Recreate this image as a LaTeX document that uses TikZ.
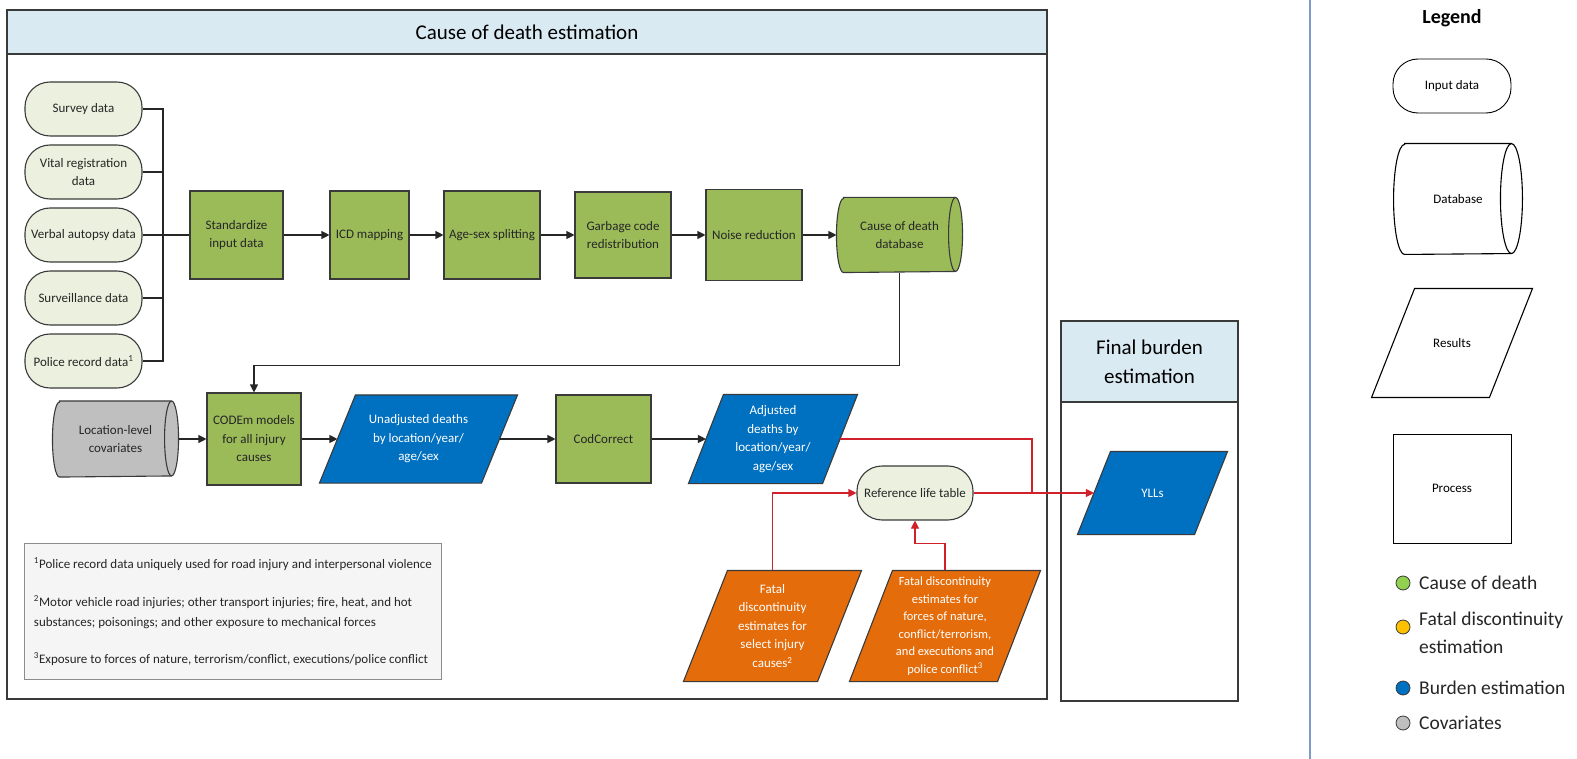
\documentclass[tikz,border=0pt]{standalone}
\usepackage{fontspec}
\setmainfont{Carlito}
\usetikzlibrary{arrows.meta,backgrounds}

\definecolor{codgreen}{HTML}{9BBB59}
\definecolor{inputfill}{HTML}{EBF1DE}
\definecolor{burdenblue}{HTML}{0070C0}
\definecolor{fdorange}{HTML}{E46C0A}
\definecolor{covgray}{HTML}{BFBFBF}
\definecolor{headblue}{HTML}{DAEAF2}
\definecolor{linkred}{HTML}{D0202A}
\definecolor{edgegray}{HTML}{3A3A3A}
\definecolor{sepblue}{HTML}{7F9CC8}
\definecolor{dotgreen}{HTML}{92D050}
\definecolor{dotyellow}{HTML}{FFC000}

\begin{document}
\begin{tikzpicture}[x=1pt,y=-1pt,
    base/.style={draw=edgegray,line width=1.1pt,inner sep=0pt,align=center,
      font=\fontsize{13}{18.5}\selectfont,text=black!85},
    inputbox/.style={base,rectangle,rounded corners=25pt,fill=inputfill,minimum width=117,minimum height=54},
    procbox/.style={base,rectangle,fill=codgreen,minimum height=88},
    dbbox/.style={base,draw=none,rectangle},
    resbox/.style={base,draw=none,rectangle,text=white},
    plgram/.style={draw=edgegray,line width=1.1pt},
    legbox/.style={draw=black,line width=0.9pt,inner sep=0pt,fill=white,font=\fontsize{13}{16}\selectfont},
    wire/.style={draw=black!85,line width=1.1pt},
    link/.style={wire,-{Triangle[length=8pt,width=8pt]}},
    redlink/.style={draw=linkred,line width=1.1pt,-{Triangle[length=8pt,width=8pt]}},
    frame/.style={draw=edgegray,line width=1.3pt}]
    \useasboundingbox (0,0) rectangle (1577,759);

    % cause of death frame
    \draw[frame] (7,10) rectangle (1047,699);
    \draw[frame,fill=headblue] (7,10) rectangle (1047,54);
    \node[font=\fontsize{21}{25}\selectfont] (codtitle) at (527,32) {Cause of death estimation};

    % input data
    \foreach \name/\y/\txt in {survey/109/Survey data,vital/172/{Vital registration\\data},
        verbal/235/Verbal autopsy data,surv/298/Surveillance data,police/361/{Police record data\textsuperscript{1}}}{
        \node[inputbox] (\name) at (83.5,\y) {\txt};
    }

    \node[procbox,minimum width=93] (std) at (236.5,235) {Standardize\\input data};
    \node[procbox,minimum width=79] (icd) at (369.5,235) {ICD mapping};
    \node[procbox,minimum width=96] (agesex) at (492,235) {Age-sex splitting};
    \node[procbox,minimum width=96,minimum height=86] (garbage) at (623,235) {Garbage code\\redistribution};
    \node[procbox,minimum width=96,minimum height=91] (noise) at (754,235) {Noise reduction};
    \node[dbbox,minimum width=125,minimum height=74] (coddb) at (899.5,235) {Cause of death\\database};

    \node[dbbox,minimum width=125,minimum height=75] (cov) at (115.5,439) {Location-level\\covariates};
    \node[procbox,minimum width=94,minimum height=92] (codem) at (254,439) {CODEm models\\for all injury\\causes};
    % results: the text node is the middle of the parallelogram
    \node[resbox,minimum width=161,minimum height=87] (unadj) at (418.5,439) {Unadjusted deaths\\by location/year/\\age/sex};
    \node[procbox,minimum width=95] (codcorr) at (603.5,439) {CodCorrect};
    \node[resbox,minimum width=133,minimum height=88] (adj) at (773,439) {Adjusted\\deaths by\\location/year/\\age/sex};

    \node[inputbox,minimum width=116] (reflife) at (915,493) {Reference life table};
    \node[resbox,minimum width=133,minimum height=110] (fdselect) at (772.5,626)
        {Fatal\\discontinuity\\estimates for\\select injury\\causes\textsuperscript{2}};
    \node[resbox,minimum width=147,minimum height=110,font=\fontsize{12.5}{17.5}\selectfont] (fdnature) at (945,626)
        {Fatal discontinuity\\estimates for\\forces of nature,\\conflict/terrorism,\\and executions and\\police conflict\textsuperscript{3}};

    \node[draw=black!45,fill=black!4,line width=1pt,minimum width=417,minimum height=136,anchor=north west,
        align=left,inner sep=0pt,font=\fontsize{13}{20}\selectfont,text=black!85] (notes) at (24,543)
        {\textsuperscript{1}Police record data uniquely used for road injury and interpersonal violence\\[18pt]
         \textsuperscript{2}Motor vehicle road injuries; other transport injuries; fire, heat, and hot\\
         substances; poisonings; and other exposure to mechanical forces\\[17pt]
         \textsuperscript{3}Exposure to forces of nature, terrorism/conflict, executions/police conflict};

    % final burden frame
    \draw[frame] (1061,321) rectangle (1238,701);
    \draw[frame,fill=headblue] (1061,321) rectangle (1238,402);
    \node[font=\fontsize{21}{29}\selectfont,align=center] (fbtitle) at (1149.5,362) {Final burden\\estimation};
    \node[resbox,minimum width=116,minimum height=82] (yll) at (1152.5,493) {YLLs};

    % legend
    \draw[sepblue,line width=1.2pt] (1310,0) -- (1310,759);
    \node[font=\bfseries\fontsize{20}{24}\selectfont] (legtitle) at (1452,18) {Legend};
    \node[legbox,rectangle,rounded corners=25pt,minimum width=118,minimum height=54] (leginput) at (1452,86) {Input data};
    \node[legbox,draw=none,fill=none,rectangle,minimum width=128,minimum height=110] (legdb) at (1458,199) {Database};
    \node[legbox,draw=none,fill=none,rectangle,minimum width=117,minimum height=108] (legres) at (1452,343) {Results};
    \node[legbox,rectangle,minimum width=118,minimum height=109] (legproc) at (1452,488.5) {Process};

    % parallelograms and cylinders behind their nodes
    \begin{scope}[on background layer]
        \foreach \n/\s/\col/\edge in {unadj/36/burdenblue/edgegray,adj/35/burdenblue/edgegray,fdselect/44/fdorange/edgegray,
            fdnature/43/fdorange/edgegray,yll/33/burdenblue/edgegray,legres/43/white/black}{
            \draw[plgram,draw=\edge,fill=\col] ([xshift=-\s/2]\n.south west) -- ([xshift=-\s/2]\n.south east)
                -- ([xshift=\s/2]\n.north east) -- ([xshift=\s/2]\n.north west) -- cycle;
        }
        \foreach \n/\r/\ry/\col/\edge in {coddb/7/37/codgreen/edgegray,cov/7/37.5/covgray/edgegray,legdb/11/55/white/black}{
            \draw[plgram,draw=\edge,fill=\col] ([xshift=\r]\n.north west) -- ([xshift=-\r]\n.north east)
                arc[start angle=90,end angle=-90,x radius=\r pt,y radius=\ry pt] -- ([xshift=\r]\n.south west)
                arc[start angle=270,end angle=90,x radius=\r pt,y radius=\ry pt] -- cycle;
            \draw[plgram,draw=\edge] ([xshift=-\r]\n.north east)
                arc[start angle=90,end angle=270,x radius=\r pt,y radius=\ry pt];
        }
    \end{scope}

    % connectors
    \coordinate (bus) at (163,235);
    \foreach \name in {survey,vital,surv,police}{
        \draw[wire] (\name.east) -| (bus);
    }
    \draw[wire,line width=2pt] (verbal.east) -- (std.west);
    \foreach \a/\b in {std/icd,icd/agesex,agesex/garbage,garbage/noise,noise/coddb,cov/codem,codem/unadj,unadj/codcorr,codcorr/adj}{
        \draw[link] (\a.east) -- (\b.west);
    }
    \draw[link] (coddb.south) -- ++(0,93) -| (codem.north);

    \coordinate (merge) at (1032,493);
    \draw[redlink,-] (adj.east) -| (merge);
    \draw[redlink] (reflife.east) -- (merge) -- (yll.west);
    \draw[redlink] (fdselect.north) |- (reflife.west);
    \draw[redlink] (fdnature.north) -- ++(0,-27) -| (reflife.south);

    \foreach \y/\ty/\col/\txt in {583/583/dotgreen/Cause of death,627/633/dotyellow/{Fatal discontinuity\\estimation},
        688/688/burdenblue/Burden estimation,723/723/covgray/Covariates}{
        \node[circle,draw=edgegray,line width=0.8pt,fill=\col,minimum size=14,inner sep=0pt] (dot\y) at (1403,\y) {};
        \node[anchor=west,align=left,inner sep=0pt,font=\fontsize{19.5}{28}\selectfont,text=black!85] (key\y) at (1419,\ty) {\txt};
    }
\end{tikzpicture}
\end{document}
